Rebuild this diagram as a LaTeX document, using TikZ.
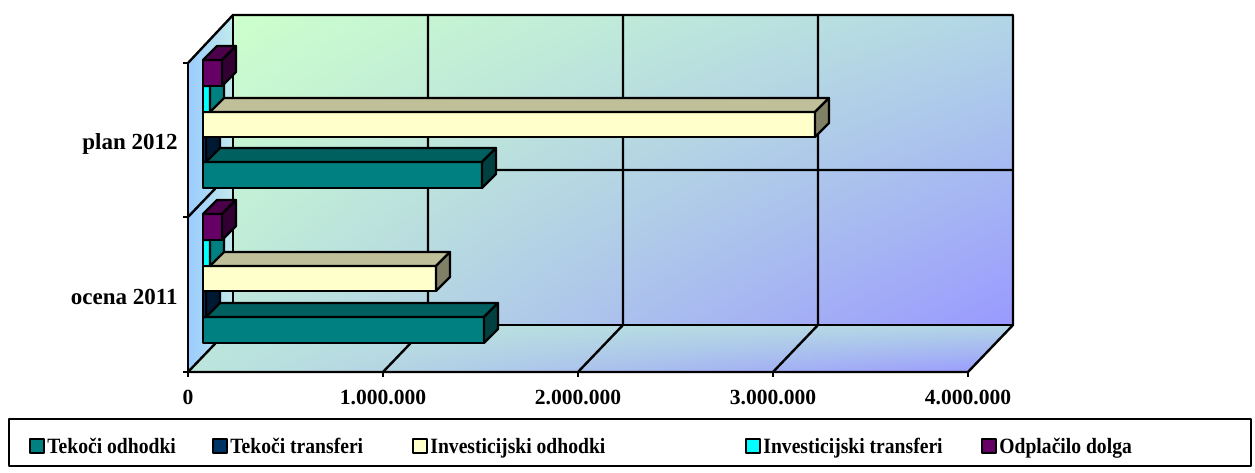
\documentclass[tikz,border=0pt]{standalone}
\usepackage{fontspec}
\setmainfont{Liberation Serif}
\newfontfamily\legfont[FakeStretch=0.9]{Liberation Serif}
\usetikzlibrary{shadings}
\definecolor{odhodki}{RGB}{0,128,128}
\definecolor{transferi}{RGB}{0,51,102}
\definecolor{invodhodki}{RGB}{255,255,204}
\definecolor{invtransferi}{RGB}{0,255,255}
\definecolor{dolg}{RGB}{102,0,102}
\definecolor{wallgreen}{RGB}{204,255,204}
\definecolor{wallblue}{RGB}{153,153,255}
\definecolor{wallmid}{RGB}{178,214,230}
\definecolor{wallmidb}{RGB}{188,230,220}
\definecolor{sidewall}{RGB}{153,204,255}
\definecolor{sidewalllight}{RGB}{196,234,236}
% one bar of the chart: x start, y top, y bottom, x end, colour
\newcommand{\cuboid}[5]{%
  \draw[barline, fill=#5] (#1,#2) rectangle (#4,#3);
  \draw[barline, fill=#5!75!black] (#1,#2) -- ++(14,-14) -- ({#4+14},{#2-14}) -- (#4,#2) -- cycle;
  \draw[barline, fill=#5!50!black] (#4,#2) -- ++(14,-14) -- ({#4+14},{#3-14}) -- (#4,#3) -- cycle;
}
\begin{document}
\begin{tikzpicture}[x=0.5pt, y=-0.5pt, line join=round,
    frame/.style={draw=black, line width=1.2pt},
    barline/.style={draw=black, line width=1.1pt},
    catlabel/.style={font=\fontsize{11.5}{13}\selectfont\bfseries, anchor=base east, inner sep=0pt},
    ticklabel/.style={font=\fontsize{10.8}{13}\selectfont\bfseries, anchor=base, inner sep=0pt},
    legkey/.style={draw=black, line width=0.8pt, minimum size=7pt, inner sep=0pt},
    legtext/.style={font=\legfont\fontsize{10.9}{12}\selectfont\bfseries, anchor=base west, inner sep=0pt}]
  \useasboundingbox (0,0) rectangle (1255,472);

  % walls and floor
  \shade[upper left=wallgreen, upper right=wallmid, lower left=wallmidb, lower right=wallblue]
    (233,15) rectangle (1013,325);
  \shade[left color=sidewall, right color=sidewalllight]
    (188,63) -- (233,15) -- (233,325) -- (188,372) -- cycle;
  \shade[upper left=wallmidb, upper right=wallmid, lower left=wallmidb, lower right=wallblue]
    (188,372) -- (233,325) -- (1013,325) -- (968,372) -- cycle;

  \draw[frame] (188,63) -- (233,15) -- (1013,15) -- (1013,325) -- (968,372) -- (188,372);
  \draw[frame] (233,15) -- (233,325) -- (1013,325);
  \draw[frame] (188,217) -- (233,170) -- (1013,170);
  \draw[frame] (188,372) -- (233,325);
  \foreach \gx in {428,623,818}
    \draw[frame] (\gx-45,372) -- (\gx,325) -- (\gx,15);

  % axes
  \draw[frame] (188,63) -- (188,372);
  \foreach \ty in {63,217,372}
    \draw[frame] (183,\ty) -- (188,\ty);
  \foreach \tx in {188,383,578,773,968}
    \draw[frame] (\tx,372) -- (\tx,377);

  % ocena 2011
  \cuboid{203}{317}{343}{484}{odhodki}
  \cuboid{203}{291}{317}{206}{transferi}
  \cuboid{203}{266}{291}{436}{invodhodki}
  \cuboid{203}{240}{266}{210}{invtransferi}
  \cuboid{203}{214}{240}{222}{dolg}

  % plan 2012
  \cuboid{203}{162}{188}{482}{odhodki}
  \cuboid{203}{137}{162}{206}{transferi}
  \cuboid{203}{112}{137}{815}{invodhodki}
  \cuboid{203}{86}{112}{210}{invtransferi}
  \cuboid{203}{60}{86}{222}{dolg}

  % labels
  \node[catlabel] (plan) at (178,149) {plan 2012};
  \node[catlabel] (ocena) at (178,304) {ocena 2011};
  \node[ticklabel] (t0) at (188,404) {0};
  \node[ticklabel] (t1) at (383,404) {1.000.000};
  \node[ticklabel] (t2) at (578,404) {2.000.000};
  \node[ticklabel] (t3) at (773,404) {3.000.000};
  \node[ticklabel] (t4) at (968,404) {4.000.000};

  % legend
  \draw[line width=1.2pt] (9,419) rectangle (1251,466);
  \node[legkey, fill=odhodki] (k1) at (37,446) {};
  \node[legtext] (l1) at (47,453) {Tekoči odhodki};
  \node[legkey, fill=transferi] (k2) at (220,446) {};
  \node[legtext] (l2) at (230,453) {Tekoči transferi};
  \node[legkey, fill=invodhodki] (k3) at (420,446) {};
  \node[legtext] (l3) at (430,453) {Investicijski odhodki};
  \node[legkey, fill=invtransferi] (k4) at (753,446) {};
  \node[legtext] (l4) at (763,453) {Investicijski transferi};
  \node[legkey, fill=dolg] (k5) at (989,446) {};
  \node[legtext] (l5) at (999,453) {Odplačilo dolga};
\end{tikzpicture}
\end{document}
